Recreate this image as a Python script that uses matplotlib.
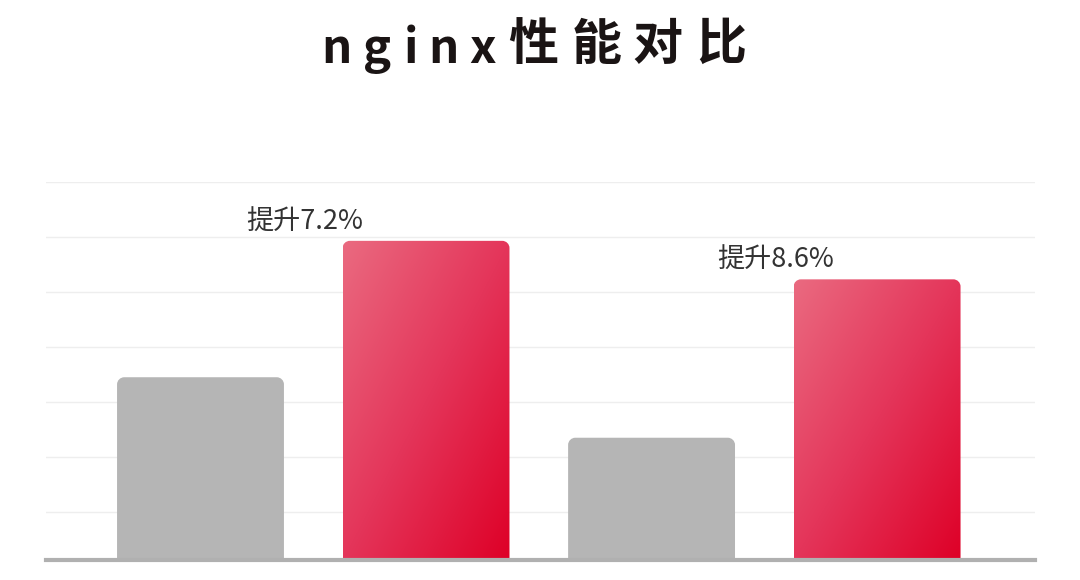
import numpy as np
import matplotlib.pyplot as plt
from matplotlib.path import Path
from matplotlib.patches import PathPatch
from matplotlib.colors import LinearSegmentedColormap

plt.rcParams['font.family'] = ['Noto Sans CJK SC', 'DejaVu Sans']

# Data
groups = ['组1', '组2']
before_values = [34450, 33350]
after_values = [36930, 36230]
gain_labels = ['提升7.2%', '提升8.6%']
title_chars = list('nginx性能对比')

fig = plt.figure(figsize=(10.8, 5.8), dpi=100)
ax = fig.add_axes([0.0426, 0.0345, 0.9157, 0.6517])

y_min, y_max = 31127, 38000

# light gridlines
for g in range(32000, 38001, 1000):
    ax.axhline(g, color='#eeeeee', lw=1, zorder=0)
ax.axhline(y_min, color='#b0b0b0', lw=3, zorder=3, clip_on=False)

width = 0.74
rx, ry = 0.032, 130

def rounded_top(x0, x1, y0, y1):
    k = 0.5523
    verts = [(x0, y0), (x0, y1 - ry),
             (x0, y1 - ry + k * ry), (x0 + rx - k * rx, y1), (x0 + rx, y1),
             (x1 - rx, y1),
             (x1 - rx + k * rx, y1), (x1, y1 - ry + k * ry), (x1, y1 - ry),
             (x1, y0), (x0, y0)]
    codes = [Path.MOVETO, Path.LINETO,
             Path.CURVE4, Path.CURVE4, Path.CURVE4,
             Path.LINETO,
             Path.CURVE4, Path.CURVE4, Path.CURVE4,
             Path.LINETO, Path.CLOSEPOLY]
    return Path(verts, codes)

red_cmap = LinearSegmentedColormap.from_list('red', ['#ea6a80', '#e4355a', '#de0027'])
gx, gy = np.meshgrid(np.linspace(0, 1, 200), np.linspace(0, 1, 200))
grad = (gx + gy) / 2

label_dx = [-0.54, -0.45]
for i in range(len(groups)):
    xb = 2 * i
    xr = 2 * i + 1
    # gray bar
    p = PathPatch(rounded_top(xb - width / 2, xb + width / 2, y_min, before_values[i]),
                  facecolor='#b5b5b5', edgecolor='none', zorder=2)
    ax.add_patch(p)
    # red gradient bar
    x0, x1 = xr - width / 2, xr + width / 2
    patch = PathPatch(rounded_top(x0, x1, y_min, after_values[i]),
                      facecolor='none', edgecolor='none', zorder=2)
    ax.add_patch(patch)
    im = ax.imshow(grad, cmap=red_cmap, extent=[x0, x1, y_min, after_values[i]],
                   origin='upper', aspect='auto', zorder=2, interpolation='bilinear')
    im.set_clip_path(patch)
    ax.text(xr + label_dx[i], after_values[i] + 340, gain_labels[i], ha='center', va='center',
            fontsize=19.5, color='#333333')

ax.set_xlim(-0.685, 3.70)
ax.set_ylim(y_min, y_max)
ax.axis('off')

# title with wide letter spacing
char_x = [336, 377, 411, 443, 483, 533, 597, 657, 721]
for ch, cx in zip(title_chars, char_x):
    if ch.isascii():
        fig.text(cx / 1080, 1 - 63 / 580, ch, ha='center', va='baseline',
                 fontsize=34, fontweight='bold', color='#1a1414')
    else:
        fig.text(cx / 1080, 0.922, ch, ha='center', va='center',
                 fontsize=36, fontweight='bold', color='#1a1414')

fig.savefig('out.png', dpi=100, facecolor='white')
